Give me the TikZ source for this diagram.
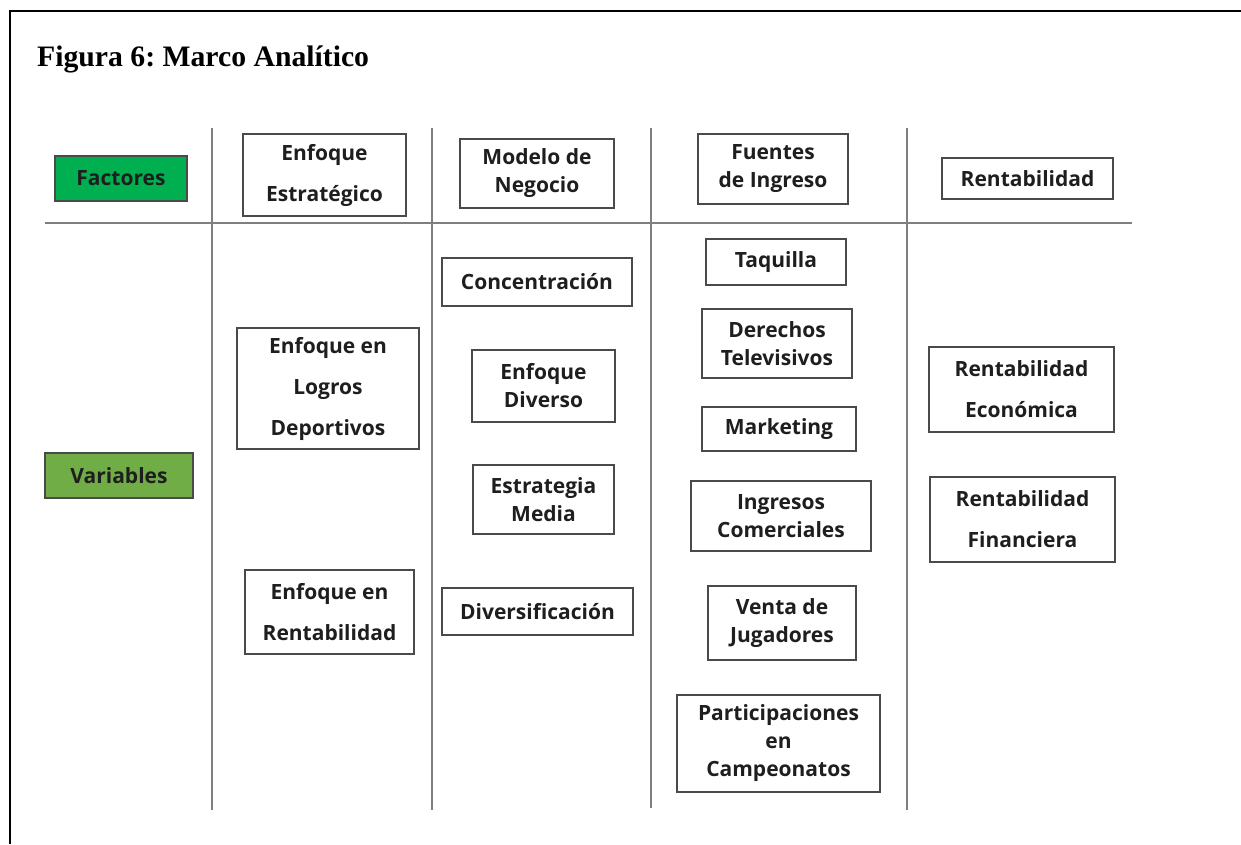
\documentclass[tikz,border=0pt]{standalone}
\usepackage{fontspec}
\setmainfont{Open Sans}
\newfontfamily\titlefont{Liberation Serif}
\definecolor{boxline}{HTML}{4A4A4A}
\definecolor{sepline}{HTML}{7F7F7F}
\definecolor{facgreen}{HTML}{00B050}
\definecolor{vargreen}{HTML}{70AD47}
\definecolor{txt}{HTML}{1E1E1E}
\tikzset{
  bx/.style={draw=boxline, line width=1.1pt, inner sep=0pt, align=center, text=txt,
    font=\fontsize{21}{28}\selectfont\bfseries},
  loose/.style={font=\fontsize{21}{41}\selectfont\bfseries},
  sep/.style={draw=sepline, line width=2pt},
  frame/.style={draw=black, line width=2pt},
}
\newcommand{\bxat}[6]{% name, x1,y1,x2,y2, style
  \node[bx,#6, minimum width={(#4-#2)*1pt}, minimum height={(#5-#3)*1pt}] (#1) at ({(#2+#4)/2},{(#3+#5)/2})}
\begin{document}
\frenchspacing
\begin{tikzpicture}[x=1pt,y=-1pt]
\useasboundingbox (0,0) rectangle (1241,844);
% frame
\coordinate (fA) at (10,844);
\coordinate (fB) at (10,11);
\coordinate (fC) at (1241,11);
\draw[frame] (fA) -- (fB) -- (fC);
\node[anchor=base west, inner sep=0pt, font=\titlefont\fontsize{29.7}{34}\selectfont\bfseries] (title) at (37,66) {Figura 6: Marco Analítico};
% separators
\coordinate (h1) at (45,223); \coordinate (h2) at (1132,223);
\draw[sep] (h1) -- (h2);
\coordinate (v1a) at (212,128); \coordinate (v1b) at (212,810);
\coordinate (v2a) at (432,128); \coordinate (v2b) at (432,810);
\coordinate (v3a) at (651,128); \coordinate (v3b) at (651,808);
\coordinate (v4a) at (907,128); \coordinate (v4b) at (907,810);
\draw[sep] (v1a) -- (v1b);
\draw[sep] (v2a) -- (v2b);
\draw[sep] (v3a) -- (v3b);
\draw[sep] (v4a) -- (v4b);
% labels
\bxat{fac}{55}{156}{187}{201}{fill=facgreen} {Factores};
\bxat{var}{45}{453}{193}{498}{fill=vargreen} {Variables};
% factors
\bxat{f1}{243}{134}{406}{216}{loose} {Enfoque\\Estratégico};
\bxat{f2}{460}{139}{614}{208}{} {Modelo de\\Negocio};
\bxat{f3}{698}{134}{848}{204}{} {Fuentes\\de Ingreso};
\bxat{f4}{942}{158}{1113}{199}{} {Rentabilidad};
% column 1
\bxat{a1}{237}{328}{419}{449}{loose} {Enfoque en\\Logros\\Deportivos};
\bxat{a2}{245}{570}{414}{654}{loose} {Enfoque en\\Rentabilidad};
% column 2
\bxat{b1}{442}{258}{632}{306}{} {Concentración};
\bxat{b2}{472}{350}{615}{422}{} {Enfoque\\Diverso};
\bxat{b3}{473}{465}{614}{534}{} {Estrategia\\Media};
\bxat{b4}{442}{588}{633}{635}{} {Diversificación};
% column 3
\bxat{c1}{706}{239}{846}{285}{} {Taquilla};
\bxat{c2}{702}{309}{852}{378}{} {Derechos\\Televisivos};
\bxat{c3}{702}{407}{856}{451}{} {Marketing};
\bxat{c4}{691}{481}{871}{551}{} {Ingresos\\Comerciales};
\bxat{c5}{708}{586}{856}{660}{} {Venta de\\Jugadores};
\bxat{c6}{677}{695}{880}{792}{} {Participaciones\\en\\Campeonatos};
% column 4
\bxat{d1}{929}{347}{1114}{432}{loose} {Rentabilidad\\Económica};
\bxat{d2}{930}{477}{1115}{562}{loose} {Rentabilidad\\Financiera};
\end{tikzpicture}
\end{document}
